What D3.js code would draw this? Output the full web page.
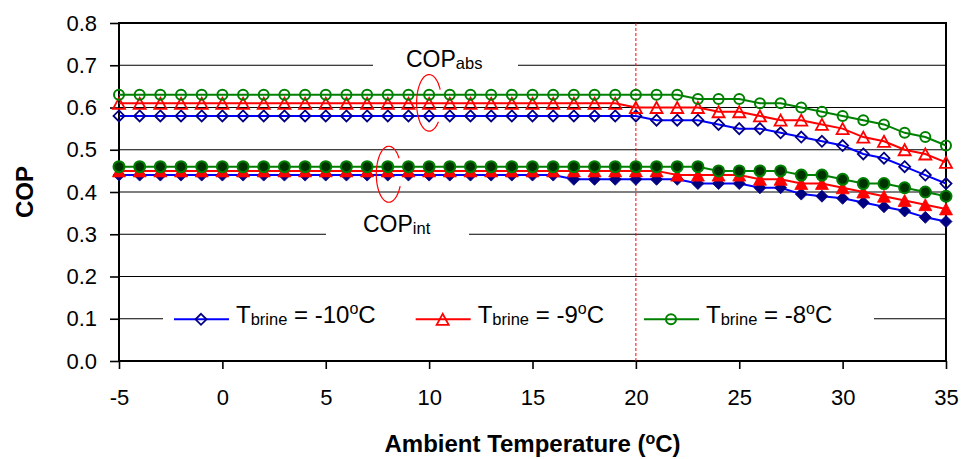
<!DOCTYPE html>
<html>
<head>
<meta charset="utf-8">
<script src="https://cdn.jsdelivr.net/npm/d3@7/dist/d3.min.js"></script>
<style>
body { margin: 0; background: #fff; }
svg text { font-family: "Liberation Sans", Arial, sans-serif; fill: #000; white-space: pre; }
</style>
</head>
<body>
<svg id="drawing_region"></svg>
<script>
// ambient temperature, one point per degree
const temps = [-5, -4, -3, -2, -1, 0, 1, 2, 3, 4, 5, 6, 7, 8, 9, 10, 11, 12, 13, 14,
               15, 16, 17, 18, 19, 20, 21, 22, 23, 24, 25, 26, 27, 28, 29, 30, 31, 32, 33, 34, 35];

// COP_abs (open markers)
const absM10 = [0.58, 0.58, 0.58, 0.58, 0.58, 0.58, 0.58, 0.58, 0.58, 0.58, 0.58, 0.58, 0.58, 0.58, 0.58, 0.58, 0.58, 0.58, 0.58, 0.58,
                0.58, 0.58, 0.58, 0.58, 0.58, 0.58, 0.57, 0.57, 0.57, 0.56, 0.55, 0.55, 0.54, 0.53, 0.52, 0.51, 0.49, 0.48, 0.46, 0.44, 0.42];
const absM9  = [0.61, 0.61, 0.61, 0.61, 0.61, 0.61, 0.61, 0.61, 0.61, 0.61, 0.61, 0.61, 0.61, 0.61, 0.61, 0.61, 0.61, 0.61, 0.61, 0.61,
                0.61, 0.61, 0.61, 0.61, 0.61, 0.60, 0.60, 0.60, 0.60, 0.59, 0.59, 0.58, 0.57, 0.57, 0.56, 0.55, 0.53, 0.52, 0.50, 0.49, 0.47];
const absM8  = [0.63, 0.63, 0.63, 0.63, 0.63, 0.63, 0.63, 0.63, 0.63, 0.63, 0.63, 0.63, 0.63, 0.63, 0.63, 0.63, 0.63, 0.63, 0.63, 0.63,
                0.63, 0.63, 0.63, 0.63, 0.63, 0.63, 0.63, 0.63, 0.62, 0.62, 0.62, 0.61, 0.61, 0.60, 0.59, 0.58, 0.57, 0.56, 0.54, 0.53, 0.51];

// COP_int (filled markers)
const intM10 = [0.44, 0.44, 0.44, 0.44, 0.44, 0.44, 0.44, 0.44, 0.44, 0.44, 0.44, 0.44, 0.44, 0.44, 0.44, 0.44, 0.44, 0.44, 0.44, 0.44,
                0.44, 0.44, 0.43, 0.43, 0.43, 0.43, 0.43, 0.43, 0.42, 0.42, 0.42, 0.41, 0.41, 0.395, 0.39, 0.385, 0.375, 0.365, 0.355, 0.34, 0.33];
const intM9  = [0.45, 0.45, 0.45, 0.45, 0.45, 0.45, 0.45, 0.45, 0.45, 0.45, 0.45, 0.45, 0.45, 0.45, 0.45, 0.45, 0.45, 0.45, 0.45, 0.45,
                0.45, 0.45, 0.45, 0.45, 0.45, 0.45, 0.45, 0.44, 0.44, 0.44, 0.44, 0.43, 0.43, 0.42, 0.42, 0.41, 0.40, 0.39, 0.38, 0.37, 0.36];
const intM8  = [0.46, 0.46, 0.46, 0.46, 0.46, 0.46, 0.46, 0.46, 0.46, 0.46, 0.46, 0.46, 0.46, 0.46, 0.46, 0.46, 0.46, 0.46, 0.46, 0.46,
                0.46, 0.46, 0.46, 0.46, 0.46, 0.46, 0.46, 0.46, 0.46, 0.45, 0.45, 0.45, 0.45, 0.44, 0.44, 0.43, 0.42, 0.42, 0.41, 0.40, 0.39];

const xTicks = [-5, 0, 5, 10, 15, 20, 25, 30, 35];
const yTicks = [0.0, 0.1, 0.2, 0.3, 0.4, 0.5, 0.6, 0.7, 0.8];
const brineLabels = ['-10', '-9', '-8'];
const refTemp = 20;

const config = {
    parent: '#drawing_region',
    width: 964,
    height: 459,
    margin: {top: 23, right: 18, bottom: 98, left: 119},
};

// series drawn in Excel order: blue, red, green (later on top)
const series = [
    {values: absM10, color: '#0000ff', mark: 'diamond', stroke: '#000080', fill: 'none'},
    {values: absM9,  color: '#ff0000', mark: 'triangle', stroke: '#ff0000', fill: 'none'},
    {values: absM8,  color: '#008000', mark: 'circle', stroke: '#008000', fill: 'none'},
    {values: intM10, color: '#0000ff', mark: 'diamond', stroke: '#000080', fill: '#000080', big: true},
    {values: intM9,  color: '#ff0000', mark: 'triangle', stroke: '#ff0000', fill: '#ff0000', big: true},
    {values: intM8,  color: '#008000', mark: 'circle', stroke: '#008000', fill: '#003300', big: true},
];

function markPath(kind, big) {
    const s = big ? 6 : 5.5;
    if (kind === 'diamond') return `M0,${-s}L${s},0L0,${s}L${-s},0Z`;
    if (kind === 'triangle') return `M0,${-s}L${s + 0.5},${s}L${-s - 0.5},${s}Z`;
    return null;
}

function drawMark(g, kind, big, stroke, fill) {
    if (kind === 'circle') {
        return g.append('circle').attr('r', big ? 5.5 : 5)
            .attr('fill', fill === 'none' ? '#fff' : fill).attr('fill-opacity', fill === 'none' ? 0 : 1)
            .attr('stroke', stroke).attr('stroke-width', 2);
    }
    return g.append('path').attr('d', markPath(kind, big))
        .attr('fill', fill).attr('stroke', stroke)
        .attr('stroke-width', fill === 'none' ? 1.8 : 0.8);
}

// text with sub/superscript parts
function richText(sel, parts, size) {
    let shift = 0;
    parts.forEach(p => {
        const target = p.sub ? 2.3 : p.sup ? -8.4 : 0;
        sel.append('tspan')
            .attr('dy', target - shift)
            .attr('font-size', p.sub ? 16.5 : p.sup ? 16 : size)
            .text(p.t);
        shift = target;
    });
}

class LinechartPlot {
    constructor(config) {
        this.config = config;
        this.init();
    }

    init() {
        let self = this;
        self.svg = d3.select(self.config.parent)
            .attr('width', self.config.width)
            .attr('height', self.config.height);

        self.inner_width = self.config.width - self.config.margin.left - self.config.margin.right;
        self.inner_height = self.config.height - self.config.margin.top - self.config.margin.bottom;

        self.chart = self.svg.append('g')
            .attr('transform', `translate(${self.config.margin.left}, ${self.config.margin.top})`);

        self.xscale = d3.scaleLinear().domain([-5, 35]).range([0, self.inner_width]);
        self.yscale = d3.scaleLinear().domain([0, 0.8]).range([self.inner_height, 0]);
    }

    render() {
        let self = this;
        const ih = self.inner_height, iw = self.inner_width;

        // gridlines
        self.chart.append('g').selectAll('line')
            .data(yTicks.filter(v => v > 0 && v < 0.8))
            .join('line')
            .attr('x1', 0).attr('x2', iw)
            .attr('y1', d => self.yscale(d)).attr('y2', d => self.yscale(d))
            .attr('stroke', '#000').attr('stroke-width', 1);

        // white label boxes that break the gridlines
        const boxes = [
            {x0: 373 - 119, x1: 518 - 119, y0: 42 - 23, y1: 80 - 23},
            {x0: 326 - 119, x1: 469 - 119, y0: 210 - 23, y1: 250 - 23},
            {x0: 163 - 119, x1: 874 - 119, y0: 300 - 23, y1: 340 - 23},
        ];
        self.chart.append('g').selectAll('rect').data(boxes).join('rect')
            .attr('x', d => d.x0).attr('y', d => d.y0)
            .attr('width', d => d.x1 - d.x0).attr('height', d => d.y1 - d.y0)
            .attr('fill', '#fff');

        // frame
        self.chart.append('rect')
            .attr('width', iw).attr('height', ih)
            .attr('fill', 'none').attr('stroke', '#000').attr('stroke-width', 2);

        // axes
        const yaxis = d3.axisLeft(self.yscale).tickValues(yTicks)
            .tickFormat(d3.format('.1f')).tickSize(9).tickPadding(13);
        const xaxis = d3.axisBottom(self.xscale).tickValues(xTicks)
            .tickFormat(d => String(d)).tickSize(8).tickPadding(20);
        const yg = self.chart.append('g').call(yaxis);
        const xg = self.chart.append('g').attr('transform', `translate(0, ${ih})`).call(xaxis);
        [yg, xg].forEach(g => {
            g.select('.domain').remove();
            g.attr('font-family', null).attr('font-size', 22);
            g.selectAll('.tick line').attr('stroke', '#000').attr('stroke-width', 1.6);
            g.selectAll('.tick text').attr('fill', '#000');
        });

        // reference temperature
        self.chart.append('line')
            .attr('x1', self.xscale(refTemp)).attr('x2', self.xscale(refTemp))
            .attr('y1', 0).attr('y2', ih)
            .attr('stroke', '#ff0000').attr('stroke-width', 1).attr('stroke-dasharray', '3,2');

        // series
        const line = d3.line().x((d, i) => self.xscale(temps[i])).y(d => self.yscale(d));
        series.forEach(s => {
            const g = self.chart.append('g');
            g.append('path').datum(s.values).attr('d', line)
                .attr('fill', 'none').attr('stroke', s.color).attr('stroke-width', 2);
            s.values.forEach((v, i) => {
                const mg = g.append('g').attr('transform', `translate(${self.xscale(temps[i])}, ${self.yscale(v)})`);
                drawMark(mg, s.mark, s.big, s.stroke, s.fill);
            });
        });

        // COP labels and ellipses
        const labels = [
            {x: 406 - 119, y: 66.7 - 23, parts: [{t: 'COP'}, {t: 'abs', sub: true}]},
            {x: 363 - 119, y: 231.7 - 23, parts: [{t: 'COP'}, {t: 'int', sub: true}]},
        ];
        labels.forEach(l => {
            const t = self.chart.append('text').attr('x', l.x).attr('y', l.y).attr('font-size', 23);
            richText(t, l.parts, 23);
        });

        const rings = [
            {cx: 10, cy: 0.611, rx: 12.5, ry: 28.3, a0: -28, a1: -320},
            {cx: 8.05, cy: 0.442, rx: 12.5, ry: 28, a0: -35, a1: -335},
        ];
        rings.forEach(r => {
            const cx = self.xscale(r.cx), cy = self.yscale(r.cy);
            const pts = d3.range(r.a0, r.a1 - 1, -5).map(a => {
                const t = a * Math.PI / 180;
                return [cx + r.rx * Math.cos(t), cy + r.ry * Math.sin(t)];
            });
            self.chart.append('path').attr('d', d3.line().curve(d3.curveCatmullRom)(pts))
                .attr('fill', 'none').attr('stroke', '#ff0000').attr('stroke-width', 1.2);
        });

        // legend
        const lg = self.chart.append('g').attr('transform', `translate(0, ${319.3 - 23})`);
        let lx = 174 - 119;
        series.slice(0, 3).forEach((s, i) => {
            lg.append('line').attr('x1', lx).attr('x2', lx + 55).attr('stroke', s.color).attr('stroke-width', 2);
            const mg = lg.append('g').attr('transform', `translate(${lx + 27}, 0)`);
            drawMark(mg, s.mark, false, s.stroke, 'none');
            const t = lg.append('text').attr('x', lx + 62).attr('y', 3.4).attr('font-size', 24);
            richText(t, [{t: 'T'}, {t: 'brine', sub: true}, {t: ' = ' + brineLabels[i]}, {t: 'o', sup: true}, {t: 'C'}], 24);
            lx = lx + 62 + t.node().getComputedTextLength() + 40;
        });

        // axis titles
        const xt = self.svg.append('text')
            .attr('x', self.config.margin.left + iw / 2).attr('y', 452)
            .attr('text-anchor', 'middle').attr('font-size', 24).attr('font-weight', 'bold');
        richText(xt, [{t: 'Ambient Temperature ('}, {t: 'o', sup: true}, {t: 'C)'}], 24);

        self.svg.append('text')
            .attr('transform', `translate(33, ${self.config.margin.top + ih / 2}) rotate(-90)`)
            .attr('text-anchor', 'middle').attr('font-size', 24).attr('font-weight', 'bold')
            .text('COP');
    }
}

let linechart_plot = new LinechartPlot(config);
linechart_plot.render();
</script>
</body>
</html>
